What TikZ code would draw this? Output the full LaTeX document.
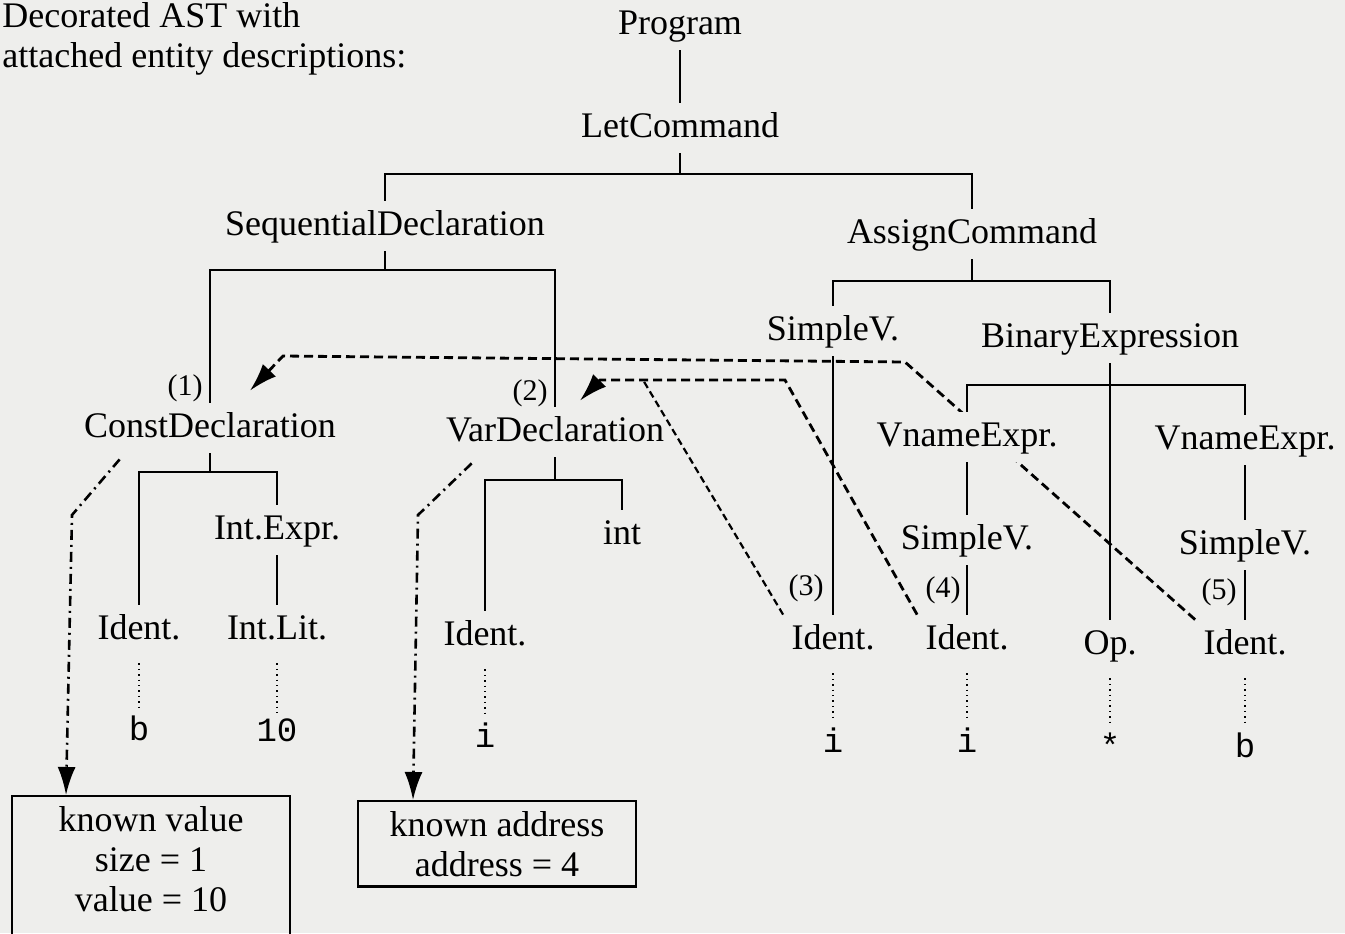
\documentclass[tikz,border=0pt]{standalone}
\usepackage{fontspec}
\setmainfont{Liberation Serif}
\setmonofont{Liberation Mono}
\usetikzlibrary{calc, positioning, arrows.meta}
\pgfdeclarelayer{bg}
\pgfsetlayers{bg,main}
\definecolor{paper}{RGB}{238,238,236}
\tikzset{
  ast/.style={font=\fontsize{18}{20}\selectfont, inner sep=4pt, text height=13pt, text depth=4pt},
  masked/.style={fill=paper},
  tag/.style={font=\fontsize{15}{17}\selectfont, inner sep=1pt},
  leaf/.style={font=\ttfamily\fontsize{17}{19}\selectfont, inner sep=2pt},
  entity/.style={draw, line width=1.2pt, align=center, minimum width=139pt,
    inner ysep=5pt, anchor=north, font=\fontsize{18}{20}\selectfont},
  edge/.style={line width=1.3pt},
  link/.style={->, line width=1.4pt, dash pattern=on 4.5pt off 2.5pt},
  sublink/.style={line width=1.1pt, dash pattern=on 3.5pt off 2pt},
  binding/.style={->, line width=1.3pt, dash pattern=on 5pt off 2.5pt on 1pt off 2.5pt},
  spelling/.style={line width=0.7pt, dotted, shorten <=4pt, shorten >=1pt}
}

\begin{document}
\begin{tikzpicture}[x=0.5pt, y=-0.5pt, >={Latex[length=14pt,width=9pt]}]
  \begin{pgfonlayer}{bg}
    \fill[paper] (0,0) rectangle (1345,933);
  \end{pgfonlayer}
  \useasboundingbox (0,0) rectangle (1345,933);

  \node at (2,2) [anchor=north west, align=left, inner sep=0pt, font=\fontsize{18}{20}\selectfont]
    {Decorated AST with\\attached entity descriptions:};

  % abstract syntax tree
  \node (prog) at (680,25) [ast] {Program};
  \node (let) at (680,128) [ast] {LetCommand};
  \node (seqdecl) at (385,226) [ast] {SequentialDeclaration};
  \node (asgn) at (972,234) [ast] {AssignCommand};
  \node (constdecl) at (210,428) [ast] {ConstDeclaration};
  \node (vardecl) at (555,432) [ast] {VarDeclaration};
  \node (sv1) at (833,331) [ast] {SimpleV.};
  \node (binexp) at (1110,338) [ast] {BinaryExpression};
  \node (vname1) at (967,437) [ast, masked] {VnameExpr.};
  \node (vname2) at (1245,440) [ast] {VnameExpr.};
  \node (intexpr) at (277,530) [ast] {Int.Expr.};
  \node (intty) at (622,535) [ast] {int};
  \node (sv2) at (967,540) [ast] {SimpleV.};
  \node (sv3) at (1245,545) [ast] {SimpleV.};
  \node (ident1) at (139,630) [ast] {Ident.};
  \node (intlit) at (277,630) [ast] {Int.Lit.};
  \node (ident2) at (485,636) [ast] {Ident.};
  \node (ident3) at (833,640) [ast] {Ident.};
  \node (ident4) at (967,640) [ast] {Ident.};
  \node (op) at (1110,645) [ast] {Op.};
  \node (ident5) at (1245,645) [ast] {Ident.};

  % declaration numbers
  \node at (185,388) [tag] {(1)};
  \node at (530,393) [tag] {(2)};
  \node at (806,588) [tag] {(3)};
  \node at (943,590) [tag] {(4)};
  \node at (1219,592) [tag] {(5)};

  % spellings
  \node (bval) at (139,728) [leaf] {b};
  \node (tenval) at (277,730) [leaf] {10};
  \node (ival1) at (485,735) [leaf] {i};
  \node (ival2) at (833,740) [leaf] {i};
  \node (ival3) at (967,740) [leaf] {i};
  \node (starval) at (1110,745) [leaf] {*};
  \node (bval2) at (1245,745) [leaf] {b};

  % entity descriptions
  \node (box1) at (151,795) [entity, text depth=20pt] {known value\\size = 1\\value = 10};
  \node (box2) at (497,800) [entity] {known address\\address = 4};

  % tree edges
  \draw [edge] (prog) -- (let);
  \draw [edge] (let) -- (let |- 0,174) coordinate (j1);
  \draw [edge] (seqdecl) |- (j1) -| (asgn);
  \draw [edge] (seqdecl) -- (seqdecl |- 0,270) coordinate (j2);
  \draw [edge] (constdecl) |- (j2) -| (vardecl);
  \draw [edge] (asgn) -- (asgn |- 0,281) coordinate (j3);
  \draw [edge] (sv1) |- (j3) -| (binexp);
  \draw [edge] (sv1) -- (ident3);
  \draw [edge] (binexp) -- (op);
  \draw [edge] (vname1) |- (binexp |- 0,385) -| (vname2);
  \draw [edge] (vname1) -- (sv2);
  \draw [edge] (sv2) -- (ident4);
  \draw [edge] (vname2) -- (sv3);
  \draw [edge] (sv3) -- (ident5);
  \draw [edge] (constdecl) -- (constdecl |- 0,472) coordinate (j5);
  \draw [edge] (ident1) |- (j5) -| (intexpr);
  \draw [edge] (intexpr) -- (intlit);
  \draw [edge] (vardecl) -- (vardecl |- 0,480) coordinate (j6);
  \draw [edge] (ident2) |- (j6) -| (intty);

  \foreach \a/\b in {ident1/bval, intlit/tenval, ident2/ival1, ident3/ival2,
                     ident4/ival3, op/starval, ident5/bval2}
    \draw [spelling] (\a) -- (\b);

  % applied occurrences to declarations
  \begin{pgfonlayer}{bg}
    \draw [link] (ident5.north west) -- (905,362) -- (283,356) -- ($(constdecl.north)+(40,-12)$);
    \draw [link] (ident4.north west) -- (785,380) -- (600,380) -- ($(vardecl.north)+(25,-6)$);
    \draw [sublink] (ident3.north west) -- (643,380);
  \end{pgfonlayer}

  % declarations to entity descriptions
  \draw [binding] ($(constdecl.south west)+(44,6)$) -- (72,515) -- (box1.north -| 66,0);
  \draw [binding] ($(vardecl.south west)+(34,6)$) -- (418,515) -- (box2.north -| 413,0);
\end{tikzpicture}
\end{document}
